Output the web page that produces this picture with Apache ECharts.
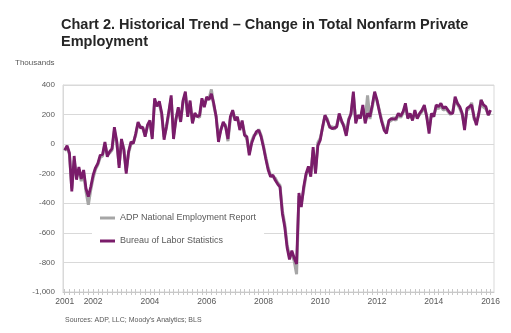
<!DOCTYPE html>
<html>
<head>
<meta charset="utf-8">
<script src="https://cdn.jsdelivr.net/npm/echarts@6/dist/echarts.min.js"></script>
<style>html,body{margin:0;padding:0;background:#fff}#c{width:511px;height:333px}</style>
</head>
<body>
<div id="c"></div>
<script>
// Monthly change, thousands, Jan 2001 .. Jan 2016
const startYear = 2001;
const blsValues = [
  -40, -10, -60, -320, -80, -240, -155, -235, -175, -300, -355, -290,
  -210, -160, -130, -75, -70, 15, -85, -50, -30, 115, 20, -160,
  35, -40, -200, -50, 15, 5, 70, 150, 110, 115, 50, 130,
  160, 35, 310, 255, 290, 210, 30, 120, 220, 330, 35, 165,
  250, 150, 295, 355, 185, 295, 140, 210, 185, 195, 310, 250,
  320, 300, 340, 275, 185, 15, 95, 150, 117, 35, 185, 230,
  160, 185, 95, 160, 60, 50, -75, 5, 50, 85, 95, 50,
  -20, -100, -175, -220, -210, -245, -270, -290, -470, -560, -700, -780,
  -720, -770, -810, -330, -425, -290, -200, -150, -220, -20, -200, -10,
  27, 117, 196, 160, 117, 105, 110, 117, 208, 160, 117, 56,
  160, 208, 355, 140, 196, 173, 265, 140, 208, 185, 265, 355,
  298, 219, 150, 95, 72, 160, 173, 170, 173, 208, 190, 219,
  276, 173, 208, 160, 230, 173, 208, 230, 265, 185, 72, 208,
  185, 265, 253, 276, 242, 253, 230, 208, 208, 321, 276, 253,
  208, 95, 242, 253, 265, 185, 128, 208, 298, 265, 253, 196,
  230
];
const adpValues = [
  -45, -20, -70, -300, -110, -220, -170, -250, -190, -320, -410, -310,
  -230, -170, -140, -90, -80, 0, -70, -60, -40, 90, 10, -140,
  20, -30, -180, -60, 0, 10, 60, 140, 120, 105, 60, 120,
  150, 50, 290, 260, 270, 200, 50, 110, 210, 310, 60, 170,
  240, 160, 280, 340, 190, 280, 150, 200, 190, 180, 300, 260,
  310, 310, 370, 260, 190, 40, 100, 140, 130, 20, 170, 220,
  170, 175, 110, 150, 75, 30, -60, 20, 60, 70, 100, 60,
  -10, -90, -160, -210, -220, -230, -260, -280, -450, -540, -680, -760,
  -740, -790, -880, -350, -400, -310, -210, -170, -200, -40, -180, 10,
  40, 110, 190, 170, 110, 120, 100, 130, 190, 150, 130, 70,
  170, 200, 330, 160, 190, 180, 240, 160, 330, 170, 250, 340,
  290, 230, 160, 110, 90, 150, 160, 180, 160, 200, 180, 210,
  260, 180, 200, 170, 210, 180, 200, 220, 250, 190, 100, 200,
  190, 250, 240, 260, 230, 240, 220, 200, 220, 300, 270, 240,
  200, 120, 230, 240, 280, 170, 150, 200, 300, 250, 240, 200,
  210
];
const seriesNames = ['ADP National Employment Report', 'Bureau of Labor Statistics'];
const xLabelYears = [2001, 2002, 2004, 2006, 2008, 2010, 2012, 2014, 2016];
const yMin = -1000, yMax = 400, yStep = 200;
const titleText = 'Chart 2. Historical Trend \u2013 Change in Total Nonfarm Private\nEmployment';
const unitText = 'Thousands';
const sourceText = "Sources: ADP, LLC; Moody's Analytics; BLS";

const toPairs = arr => arr.map((v, i) => [startYear + i / 12, v]);
const tickVals = [];
for (let m = 0; m <= 15 * 12; m += 2) tickVals.push(startYear + m / 12);

const FONT = 'Liberation Sans, Arial, sans-serif';
const chart = echarts.init(document.getElementById('c'), null, {renderer: 'canvas'});
const xCommon = {
  type: 'value', min: 2000.94, max: 2016.12,
  splitLine: {show: false}
};
chart.setOption({
  animation: false,
  backgroundColor: '#fff',
  title: {
    text: titleText, left: 56, top: 11,
    textStyle: {fontFamily: FONT, fontSize: 14.5, fontWeight: 'bold', color: '#262626', lineHeight: 17}
  },
  graphic: [
    {type: 'text', left: 15, top: 59, style: {text: unitText, font: '8px ' + FONT, fill: '#595959'}},
    {type: 'text', left: 65, top: 317, style: {text: sourceText, font: '7px ' + FONT, fill: '#595959'}}
  ],
  grid: {left: 63, right: 17, top: 85, bottom: 41, show: true, borderColor: '#d9d9d9', borderWidth: 1, containLabel: false},
  legend: {
    orient: 'vertical', left: 92, top: 206,
    padding: [6, 8, 6, 8], itemGap: 11,
    backgroundColor: '#fff',
    itemWidth: 15, itemHeight: 3, icon: 'rect',
    textStyle: {fontFamily: FONT, fontSize: 9, color: '#595959', lineHeight: 12},
    data: seriesNames
  },
  xAxis: [
    Object.assign({}, xCommon, {
      position: 'bottom',
      axisLine: {show: true, onZero: false, lineStyle: {color: '#c8c8c8'}},
      axisTick: {show: true, customValues: tickVals, length: 3, lineStyle: {color: '#c8c8c8'}},
      axisLabel: {customValues: xLabelYears, formatter: v => String(Math.round(v)), margin: 5,
                  fontFamily: FONT, fontSize: 8.5, color: '#595959'}
    }),
    Object.assign({}, xCommon, {
      position: 'bottom', offset: 0,
      axisLine: {show: false, onZero: false},
      axisTick: {show: true, inside: true, customValues: tickVals, length: 3, lineStyle: {color: '#c8c8c8'}},
      axisLabel: {show: false}
    })
  ],
  yAxis: {
    type: 'value', min: yMin, max: yMax, interval: yStep,
    axisLine: {show: true, lineStyle: {color: '#d9d9d9'}},
    axisTick: {show: false},
    splitLine: {lineStyle: {color: '#d9d9d9'}},
    axisLabel: {formatter: v => v.toLocaleString('en-US'), margin: 8, fontFamily: FONT, fontSize: 8, color: '#595959'}
  },
  series: [
    {name: seriesNames[0], type: 'line', data: toPairs(adpValues), showSymbol: false, symbol: 'none',
     lineStyle: {color: '#a6a6a6', width: 3}, itemStyle: {color: '#a6a6a6'}, z: 2},
    {name: seriesNames[1], type: 'line', data: toPairs(blsValues), showSymbol: false, symbol: 'none',
     lineStyle: {color: '#7a1c6a', width: 2.8}, itemStyle: {color: '#7a1c6a'}, z: 3}
  ]
});
</script>
</body>
</html>
